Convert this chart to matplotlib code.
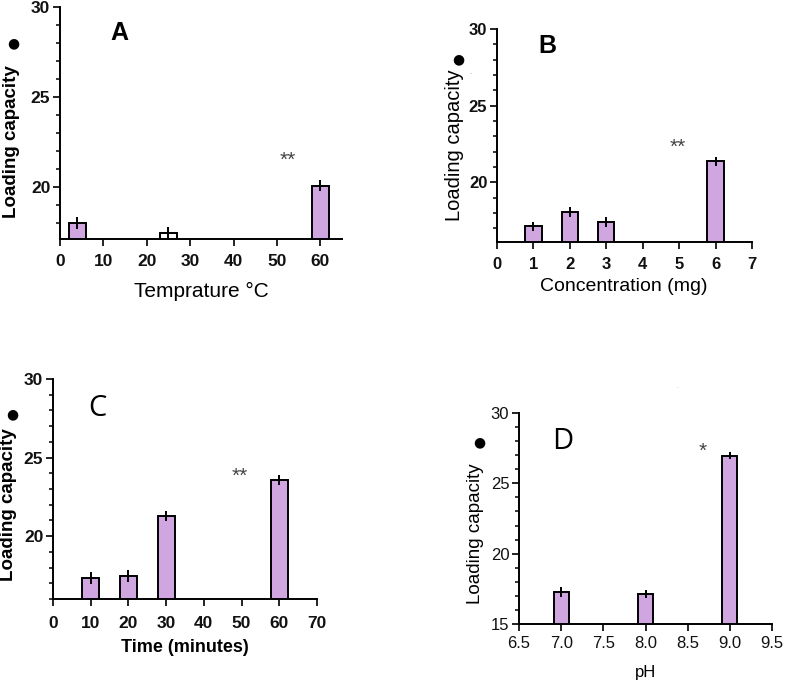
import matplotlib
matplotlib.use("Agg")
import matplotlib.pyplot as plt
from matplotlib.ticker import MultipleLocator, FormatStrFormatter

plt.rcParams['font.family'] = ['Liberation Sans', 'DejaVu Sans']

# --- data ---
temp_c = [4, 25, 60]
temp_load = [18.0, 17.45, 20.07]
temp_err = [0.35, 0.3, 0.3]

conc_mg = [1, 2, 3, 6]
conc_load = [17.12, 18.06, 17.4, 21.37]
conc_err = [0.3, 0.3, 0.3, 0.3]

time_min = [10, 20, 30, 60]
time_load = [17.32, 17.47, 21.27, 23.57]
time_err = [0.38, 0.38, 0.33, 0.33]

ph_vals = [7.0, 8.0, 9.0]
ph_load = [17.25, 17.13, 26.97]
ph_err = [0.35, 0.3, 0.25]

W, H = 787, 681
BAR = '#CFA6DF'

fig = plt.figure(figsize=(W / 100, H / 100), dpi=100)


def px_axes(left, right, top, bottom):
    return fig.add_axes([left / W, 1 - bottom / H, (right - left) / W, (bottom - top) / H])


def px_text(x, y, s, **kw):
    fig.text(x / W, 1 - y / H, s, ha='center', va='center', **kw)


def style(ax, tick_size, tick_weight, xpad):
    for side in ['top', 'right']:
        ax.spines[side].set_visible(False)
    for side in ['left', 'bottom']:
        ax.spines[side].set_linewidth(1.4)
    ax.yaxis.set_minor_locator(MultipleLocator(1))
    ax.tick_params(which='major', direction='out', length=5, width=1.3,
                   labelsize=tick_size, colors='#111111')
    ax.tick_params(axis='x', pad=xpad)
    ax.tick_params(axis='y', pad=2)
    ax.tick_params(which='minor', axis='y', direction='out', length=3, width=1.1)
    ax.tick_params(which='minor', axis='x', length=0)
    for t in ax.xaxis.get_major_ticks() + ax.yaxis.get_major_ticks():
        t.label1.set_fontweight(tick_weight)


def bars(ax, x, y, err, width, colors=None):
    ax.bar(x, y, width=width, color=colors if colors else BAR,
           edgecolor='black', linewidth=1.4, zorder=2)
    ax.errorbar(x, y, yerr=err, fmt='none', ecolor='black', elinewidth=1.4,
                capsize=0, zorder=3)


# --- A: temperature ---
axA = px_axes(60, 342, 7, 239)
bars(axA, temp_c, temp_load, temp_err, 4, colors=[BAR, 'white', BAR])
axA.set_xlim(0, 65)
axA.set_ylim(17.1, 30)
axA.set_xticks(range(0, 61, 10))
axA.set_yticks([20, 25, 30])
style(axA, 12.5, 'bold', 6)
axA.text(13.8, 28.55, 'A', fontsize=18, fontweight='bold', ha='center', va='center')
axA.text(52.4, 21.5, '**', fontsize=15, color='#444444', ha='center', va='center')
px_text(12, 142, 'Loading capacity', rotation=90, fontsize=13.5, fontweight='bold')
px_text(13, 43, '●', fontsize=10, family='DejaVu Sans')
px_text(201, 291, 'Temprature °C', fontsize=15)

# --- B: concentration ---
axB = px_axes(497, 752, 29, 242)
bars(axB, conc_mg, conc_load, conc_err, 0.45)
axB.set_xlim(0, 7)
axB.set_ylim(16.1, 30)
axB.set_xticks(range(0, 8))
axB.set_yticks([20, 25, 30])
style(axB, 12, 'bold', 6)
axB.text(1.37, 28.9, 'B', fontsize=18, fontweight='bold', ha='center', va='center')
axB.text(4.97, 22.25, '**', fontsize=15, color='#444444', ha='center', va='center')
px_text(454, 145, 'Loading capacity', rotation=90, fontsize=14.5)
px_text(470, 72, '.', fontsize=6, color='#999999')
px_text(458, 59, '●', fontsize=10, family='DejaVu Sans')
px_text(624, 287, 'Concentration (mg)', fontsize=14)

# --- C: time ---
axC = px_axes(53, 317, 379, 599)
bars(axC, time_min, time_load, time_err, 4.5)
axC.set_xlim(0, 70)
axC.set_ylim(16, 30)
axC.set_xticks(range(0, 71, 10))
axC.set_yticks([20, 25, 30])
style(axC, 12.5, 'bold', 7)
axC.text(11.7, 28.15, 'C', fontsize=21, family='Open Sans', ha='center', va='center')
axC.text(49.6, 23.8, '**', fontsize=15, color='#444444', ha='center', va='center')
px_text(9, 505, 'Loading capacity', rotation=90, fontsize=13.5, fontweight='bold')
px_text(12, 414, '●', fontsize=10, family='DejaVu Sans')
px_text(185, 647, 'Time (minutes)', fontsize=13, fontweight='bold')

# --- D: pH ---
axD = px_axes(519, 772, 413, 624)
bars(axD, ph_vals, ph_load, ph_err, 0.18)
axD.set_xlim(6.5, 9.5)
axD.set_ylim(15, 30)
axD.set_xticks([6.5, 7.0, 7.5, 8.0, 8.5, 9.0, 9.5])
axD.xaxis.set_major_formatter(FormatStrFormatter('%.1f'))
axD.set_yticks([15, 20, 25, 30])
style(axD, 12, 'normal', 4)
axD.text(7.02, 27.96, 'D', fontsize=21, family='Open Sans', ha='center', va='center')
axD.text(8.68, 27.3, '*', fontsize=15, color='#444444', ha='center', va='center')
px_text(475, 534, 'Loading capacity', rotation=90, fontsize=13.5)
px_text(479, 442, '●', fontsize=10, family='DejaVu Sans')
px_text(646, 672, 'pH', fontsize=12)
px_text(677, 387, '.', fontsize=5, color='#bbbbbb')

fig.savefig('out.png', dpi=100)
